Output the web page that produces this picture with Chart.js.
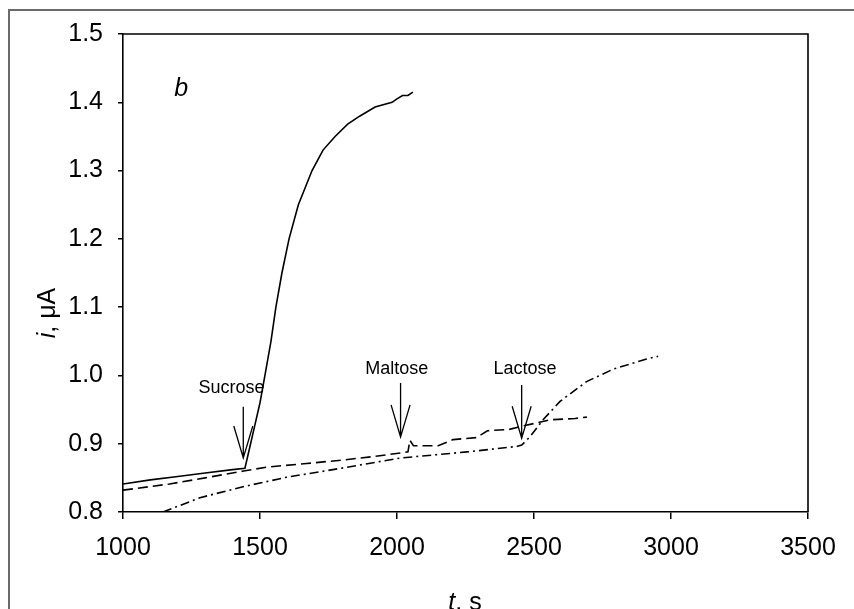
<!DOCTYPE html>
<html>
<head>
<meta charset="utf-8">
<script src="https://cdn.jsdelivr.net/npm/chart.js@4.4.1/dist/chart.umd.min.js"></script>
<style>
  html, body { margin: 0; padding: 0; background: #fff; }
  #wrap { width: 854px; height: 609px; }
</style>
</head>
<body>
<div id="wrap"><canvas id="chart" width="854" height="609"></canvas></div>
<script>
// sucrose run (solid)
const sucroseT = [1000, 1100, 1200, 1300, 1400, 1445, 1460, 1480, 1500, 1518, 1540, 1558, 1580, 1606, 1640, 1690, 1730, 1774, 1820, 1865, 1920, 1982, 2000, 2020, 2040, 2058];
const sucroseI = [0.841, 0.847, 0.852, 0.857, 0.862, 0.864, 0.890, 0.925, 0.960, 1.000, 1.050, 1.100, 1.150, 1.200, 1.250, 1.300, 1.330, 1.350, 1.368, 1.380, 1.393, 1.400, 1.405, 1.410, 1.410, 1.415];

// maltose run (dashed)
const maltoseT = [1000, 1170, 1300, 1440, 1530, 1670, 1800, 1930, 2040, 2047, 2060, 2150, 2205, 2290, 2330, 2410, 2460, 2560, 2650, 2693];
const maltoseI = [0.832, 0.841, 0.850, 0.860, 0.866, 0.871, 0.876, 0.882, 0.888, 0.905, 0.897, 0.897, 0.906, 0.909, 0.919, 0.921, 0.926, 0.935, 0.937, 0.939];

// lactose run (dash-dot)
const lactoseT = [1146, 1281, 1438, 1598, 1766, 2011, 2255, 2437, 2455, 2485, 2533, 2595, 2692, 2788, 2911, 2953];
const lactoseI = [0.800, 0.821, 0.837, 0.851, 0.862, 0.879, 0.888, 0.896, 0.898, 0.910, 0.935, 0.962, 0.991, 1.009, 1.024, 1.028];

// injection marks
const markNames = ['Sucrose', 'Maltose', 'Lactose'];
const markT = [1439, 2013, 2455];
const markTip = [0.879, 0.910, 0.908];
const markTop = [0.954, 0.989, 0.986];
const labelT = [1396, 1999, 2467];
const labelI = [0.981, 1.010, 1.010];

const FONT = "'Liberation Sans', Arial, sans-serif";

function pts(xs, ys) {
  return xs.map((x, i) => ({ x: x, y: ys[i] }));
}

const annotations = {
  id: 'annotations',
  afterDraw(chart) {
    const ctx = chart.ctx;
    const xs = chart.scales.x;
    const ys = chart.scales.y;
    const a = chart.chartArea;
    ctx.save();

    // outer frame
    ctx.strokeStyle = '#6b6b6b';
    ctx.lineWidth = 2;
    ctx.strokeRect(9, 10, 900, 700);

    // plot box (top and right edges)
    ctx.strokeStyle = '#000';
    ctx.lineWidth = 1.6;
    ctx.beginPath();
    ctx.moveTo(a.left, a.top);
    ctx.lineTo(a.right, a.top);
    ctx.lineTo(a.right, a.bottom);
    ctx.stroke();

    // arrows
    ctx.lineWidth = 1.3;
    ctx.fillStyle = '#000';
    ctx.font = '18px ' + FONT;
    ctx.textAlign = 'center';
    ctx.textBaseline = 'middle';
    markNames.forEach((name, i) => {
      const x = xs.getPixelForValue(markT[i]);
      const yTip = ys.getPixelForValue(markTip[i]);
      const yTop = ys.getPixelForValue(markTop[i]);
      ctx.beginPath();
      ctx.moveTo(x, yTop);
      ctx.lineTo(x, yTip);
      ctx.moveTo(x - 9.5, yTip - 32);
      ctx.lineTo(x, yTip);
      ctx.lineTo(x + 9.5, yTip - 32);
      ctx.stroke();
      ctx.fillText(name, xs.getPixelForValue(labelT[i]), ys.getPixelForValue(labelI[i]));
    });

    // panel letter
    ctx.font = 'italic 25px ' + FONT;
    ctx.fillText('b', xs.getPixelForValue(1212), ys.getPixelForValue(1.42));

    // x title: t, s
    ctx.textAlign = 'left';
    ctx.textBaseline = 'alphabetic';
    const it = 'italic 25px ' + FONT;
    const rg = '25px ' + FONT;
    ctx.font = it;
    const w1 = ctx.measureText('t').width;
    ctx.font = rg;
    const w2 = ctx.measureText(', s').width;
    let sx = 465 - (w1 + w2) / 2;
    ctx.font = it;
    ctx.fillText('t', sx, 610);
    ctx.font = rg;
    ctx.fillText(', s', sx + w1, 610);

    // y title: i, μA
    ctx.translate(55, 313);
    ctx.rotate(-Math.PI / 2);
    ctx.font = it;
    const w3 = ctx.measureText('i').width;
    ctx.font = rg;
    const w4 = ctx.measureText(', μA').width;
    sx = -(w3 + w4) / 2;
    ctx.font = it;
    ctx.fillText('i', sx, 0);
    ctx.font = rg;
    ctx.fillText(', μA', sx + w3, 0);

    ctx.restore();
  }
};

const lineBase = {
  borderColor: '#000',
  borderWidth: 1.6,
  pointRadius: 0,
  tension: 0,
  fill: false,
};

new Chart(document.getElementById('chart'), {
  type: 'line',
  data: {
    datasets: [
      Object.assign({ label: 'Sucrose', data: pts(sucroseT, sucroseI) }, lineBase),
      Object.assign({ label: 'Maltose', data: pts(maltoseT, maltoseI), borderDash: [10, 5] }, lineBase),
      Object.assign({ label: 'Lactose', data: pts(lactoseT, lactoseI), borderDash: [9, 4, 2, 4] }, lineBase),
    ],
  },
  options: {
    responsive: false,
    animation: false,
    devicePixelRatio: 1,
    layout: { padding: { top: 34, right: 46, left: 0, bottom: 0 } },
    plugins: {
      legend: { display: false },
      tooltip: { enabled: false },
    },
    scales: {
      x: {
        type: 'linear',
        min: 1000,
        max: 3500,
        afterFit(s) { s.height = 97; },
        ticks: {
          stepSize: 500,
          color: '#000',
          padding: 14,
          maxRotation: 0,
          font: { family: FONT, size: 25 },
          callback(v) { return String(v); },
        },
        grid: { display: true, drawOnChartArea: false, drawTicks: true, tickLength: 7, color: '#000', lineWidth: 1.5 },
        border: { display: true, color: '#000', width: 1.6 },
      },
      y: {
        min: 0.8,
        max: 1.5,
        afterFit(s) { s.width = 123; },
        ticks: {
          stepSize: 0.1,
          color: '#000',
          padding: 15,
          font: { family: FONT, size: 25 },
          callback(v) { return v.toFixed(1); },
        },
        grid: { display: true, drawOnChartArea: false, drawTicks: true, tickLength: 5, color: '#000', lineWidth: 1.5 },
        border: { display: true, color: '#000', width: 1.6 },
      },
    },
  },
  plugins: [annotations],
});
</script>
</body>
</html>
